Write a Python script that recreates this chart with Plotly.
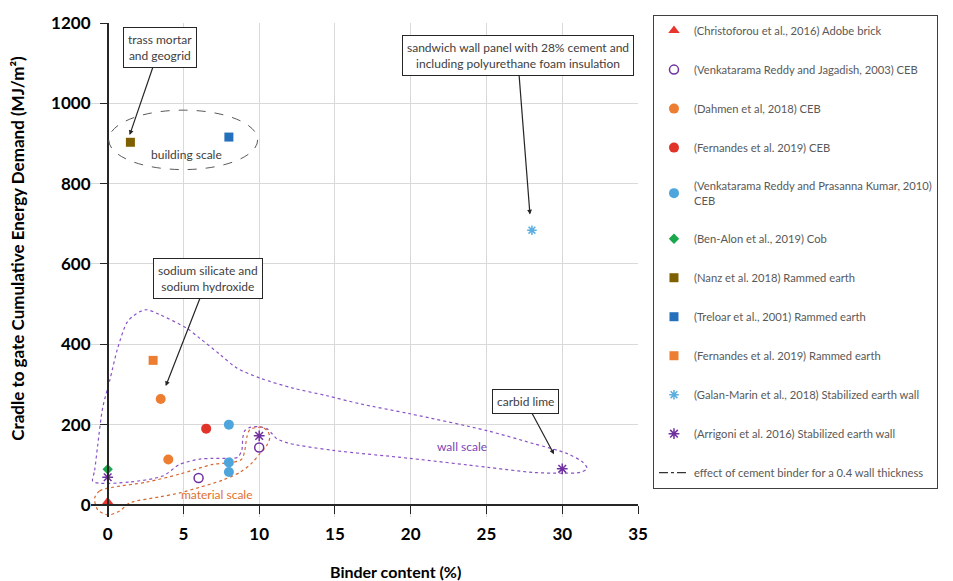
import plotly.graph_objects as go

# ---------------- data ----------------
series_names = [
    "(Christoforou et al., 2016) Adobe brick",
    "(Venkatarama Reddy and Jagadish, 2003) CEB",
    "(Dahmen et al, 2018) CEB",
    "(Fernandes et al. 2019) CEB",
    "(Venkatarama Reddy and Prasanna Kumar, 2010)<br>CEB",
    "(Ben-Alon et al., 2019) Cob",
    "(Nanz et al. 2018) Rammed earth",
    "(Treloar et al., 2001) Rammed earth",
    "(Fernandes et al. 2019) Rammed earth",
    "(Galan-Marin et al., 2018) Stabilized earth wall",
    "(Arrigoni et al. 2016) Stabilized earth wall",
]
series_x = [
    [0],
    [6, 10],
    [3.5, 4],
    [6.5],
    [8, 8, 8],
    [0],
    [1.5],
    [8],
    [3],
    [28],
    [0, 10, 30],
]
series_y = [
    [8],
    [67, 143],
    [264, 113],
    [190],
    [200, 106, 82],
    [89],
    [903],
    [916],
    [360],
    [684],
    [69, 172, 90],
]
binder_line_name = "effect of cement binder for a 0.4 wall thickness"

x_ticks = [0, 5, 10, 15, 20, 25, 30, 35]
y_ticks = [0, 200, 400, 600, 800, 1000, 1200]

# outline of the "wall scale" group (data units)
wall_x = [-0.99, -0.86, -0.66, -0.33, 0.13, 0.66, 1.32, 2.11, 2.58, 3.43, 5.22, 6.08, 7.40,
          8.52, 10.04, 12.22, 14.47, 16.64, 19.95, 25.03, 28.07, 30.32, 31.37, 31.64, 31.18,
          30.05, 28.07, 25.03, 19.95, 14.86, 12.02, 11.16, 10.83, 10.50, 9.91, 9.38, 9.05,
          8.92, 8.85, 8.59, 8.06, 6.94, 6.08, 4.76, 3.63, 1.45, -0.53, -0.99]
wall_y = [59, 86, 148, 242, 309, 390, 457, 481, 486, 474, 440, 415, 375,
          341, 316, 291, 272, 252, 227, 185, 153, 128, 106, 91, 81,
          79, 81, 94, 116, 136, 153, 165, 178, 190, 195, 193, 185,
          168, 136, 119, 116, 116, 114, 101, 72, 57, 54, 59]
# outline of the "material scale" group (data units)
mat_x = [-0.86, -0.53, 0.33, 2.58, 4.76, 6.94, 8.26, 8.85, 9.05, 9.18, 9.38, 9.91, 10.24,
         10.57, 10.70, 10.50, 10.04, 9.51, 8.72, 7.60, 6.08, 4.76, 3.43, 1.45, 0.79, 0.00,
         -0.66, -0.86]
mat_y = [17, 35, 44, 57, 77, 101, 106, 114, 136, 168, 188, 193, 193,
         183, 168, 148, 128, 104, 81, 62, 44, 30, 20, 5, -15, -25,
         -12, 17]

# ---------------- styles ----------------
styles = [
    dict(symbol="triangle-up", color="#e8352e", size=10),
    dict(symbol="circle-open", color="#7030a0", size=9, line=dict(width=1.5)),
    dict(symbol="circle", color="#ed7d31", size=10),
    dict(symbol="circle", color="#e2332a", size=10),
    dict(symbol="circle", color="#4ea5dc", size=10),
    dict(symbol="diamond", color="#1aa84c", size=8),
    dict(symbol="square", color="#7f6000", size=9),
    dict(symbol="square", color="#2470bc", size=9),
    dict(symbol="square", color="#ed7d31", size=9),
    dict(symbol="asterisk-open", color="#5aaee0", size=8, line=dict(width=1.5)),
    dict(symbol="asterisk-open", color="#7030a0", size=9, line=dict(width=1.5)),
]

X_RANGE = [-1.1, 35]
Y_RANGE = [-30, 1200]

fig = go.Figure()

# contours (drawn first, under the markers)
fig.add_trace(go.Scatter(x=wall_x, y=wall_y, mode="lines", showlegend=False, hoverinfo="skip",
                         line=dict(color="#8a52c8", width=1.2, dash="dot", shape="spline", smoothing=0.8)))
fig.add_trace(go.Scatter(x=mat_x, y=mat_y, mode="lines", showlegend=False, hoverinfo="skip",
                         line=dict(color="#d8672e", width=1.2, dash="dot", shape="spline", smoothing=0.8)))

for i, (nm, xs, ys, st) in enumerate(zip(series_names, series_x, series_y, styles)):
    fig.add_trace(go.Scatter(x=xs, y=ys, mode="markers", name=nm, legendgroup=f"g{i}",
                             marker=st, cliponaxis=False))

fig.add_trace(go.Scatter(x=[None], y=[None], mode="lines", name=binder_line_name,
                         legendgroup="gline", line=dict(color="black", width=1, dash="dashdot")))

# building scale ellipse
fig.add_shape(type="circle", xref="x", yref="y", x0=0.07, x1=9.9, y0=835, y1=983,
              line=dict(color="#595959", width=1, dash="dash"))

txt_font = dict(family="Lato, sans-serif", size=12, color="#404040")

# callouts with arrows
callouts = [
    ("trass mortar<br>and geogrid", 1.45, 921, 3.43, 1139),
    ("sodium silicate and<br>sodium hydroxide", 3.83, 296, 6.6, 564),
    ("sandwich wall panel with 28% cement and<br>including polyurethane foam insulation", 27.87, 723, 27.05, 1120),
    ("carbid lime", 29.46, 126, 27.6, 257),
]
for text, x, y, ax, ay in callouts:
    fig.add_annotation(x=x, y=y, ax=ax, ay=ay, xref="x", yref="y", axref="x", ayref="y",
                       text=text, showarrow=True, arrowhead=2, arrowsize=0.8, arrowwidth=1.2,
                       arrowcolor="#262626", font=txt_font, bgcolor="white",
                       bordercolor="#262626", borderwidth=1, borderpad=4, standoff=0)

# plain labels
fig.add_annotation(x=5.22, y=872, xref="x", yref="y", text="building scale", showarrow=False,
                   font=dict(family="Lato, sans-serif", size=12, color="#404040"))
fig.add_annotation(x=23.4, y=146, xref="x", yref="y", text="wall scale", showarrow=False,
                   font=dict(family="Lato, sans-serif", size=12, color="#7b45b8"))
fig.add_annotation(x=7.2, y=25, xref="x", yref="y", text="material scale", showarrow=False,
                   font=dict(family="Lato, sans-serif", size=12, color="#e0702f"))

# axis titles
fig.add_annotation(x=0.556, y=-0.111, xref="paper", yref="paper", xanchor="center", yanchor="middle",
                   text="Binder content (%)", showarrow=False,
                   font=dict(family="Lato, sans-serif", size=16, color="black", weight="bold"))
fig.add_annotation(x=-0.1335, y=0.545, xref="paper", yref="paper", xanchor="center", yanchor="middle",
                   textangle=-90, text="Cradle to gate Cumulative Energy Demand (MJ/m²)", showarrow=False,
                   font=dict(family="Lato, sans-serif", size=17, color="black", weight="bold"))

tick_font = dict(family="Lato, sans-serif", size=17, color="black", weight="bold")

fig.update_layout(
    width=953, height=581,
    margin=dict(l=91, r=315, t=19, b=64),
    paper_bgcolor="white", plot_bgcolor="white",
    showlegend=True,
    legend=dict(x=1.0274, y=1.016, xanchor="left", yanchor="top",
                bordercolor="#404040", borderwidth=1, bgcolor="white",
                font=dict(family="Lato, sans-serif", size=11.2, color="#595959"),
                tracegroupgap=20, itemclick=False, maxheight=1000),
    xaxis=dict(range=X_RANGE, tickvals=x_ticks, showgrid=True, gridcolor="#d9d9d9", gridwidth=1,
               zeroline=False, showline=True, linecolor="#262626", linewidth=1.5,
               ticks="outside", ticklen=8, tickcolor="#262626", tickwidth=1.2,
               anchor="free", position=(0 - Y_RANGE[0]) / (Y_RANGE[1] - Y_RANGE[0]),
               tickfont=tick_font, ticklabelstandoff=6),
    yaxis=dict(range=Y_RANGE, tickvals=y_ticks, showgrid=True, gridcolor="#d9d9d9", gridwidth=1,
               zeroline=False, showline=True, linecolor="#262626", linewidth=1.5,
               ticks="outside", ticklen=7, tickcolor="#262626", tickwidth=1.2,
               anchor="free", position=(0 - X_RANGE[0]) / (X_RANGE[1] - X_RANGE[0]),
               tickfont=tick_font, ticklabelstandoff=6),
)

fig.write_html("out.html")
